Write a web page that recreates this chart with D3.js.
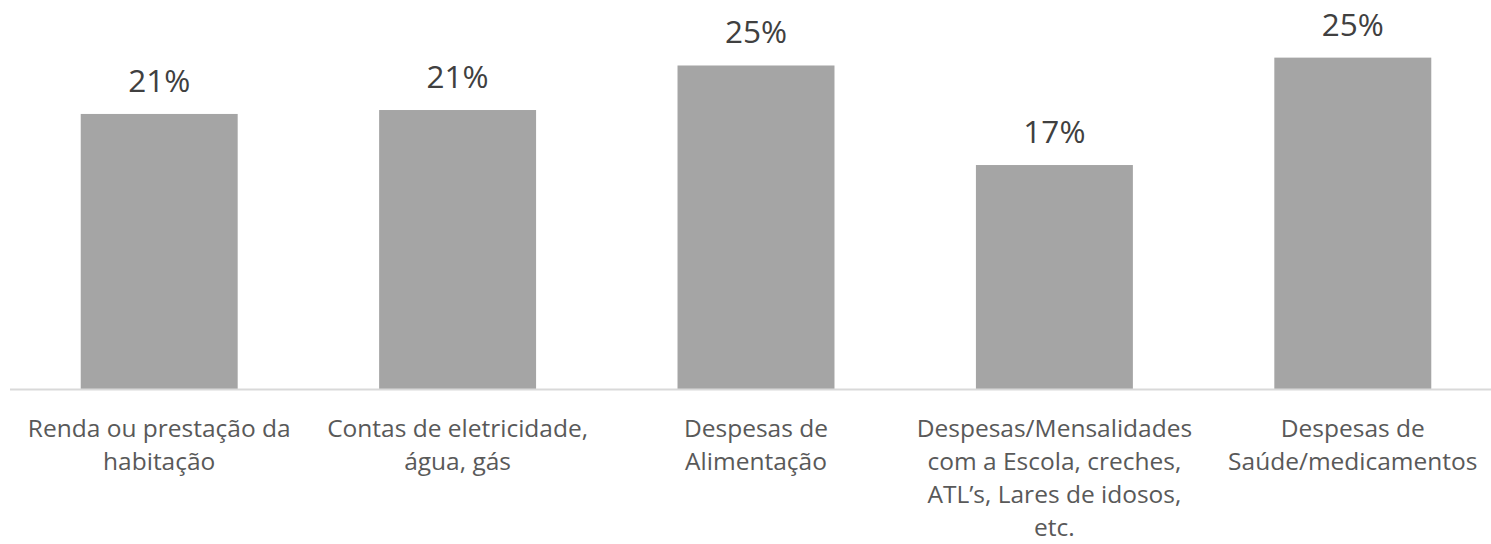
<!DOCTYPE html>
<html>
<head>
<meta charset="utf-8">
<script src="https://cdn.jsdelivr.net/npm/d3@7"></script>
<style>
  body { margin: 0; background: #fff; }
  svg { display: block; }
</style>
</head>
<body>
<div id="chart"></div>
<script>
const width = 1491, height = 544;

// categories (already broken into lines as in the original)
const categories = [
  ["Renda ou prestação da", "habitação"],
  ["Contas de eletricidade,", "água, gás"],
  ["Despesas de", "Alimentação"],
  ["Despesas/Mensalidades", "com a Escola, creches,", "ATL’s, Lares de idosos,", "etc."],
  ["Despesas de", "Saúde/medicamentos"]
];
const values = [21.0, 21.3, 24.7, 17.1, 25.3];

const data = categories.map((c, i) => ({key: i, lines: c, value: values[i]}));

const svg = d3.select("#chart").append("svg")
  .attr("width", width)
  .attr("height", height);

const baseline = 389;

const x = d3.scaleBand().domain(data.map(d => d.key)).range([10, 1502])
  .paddingInner(0.474).paddingOuter(0.237);
const y = d3.scaleLinear().domain([0, 29.7]).range([baseline, 0]);

svg.selectAll("rect.bar")
  .data(data)
  .join("rect")
  .attr("class", "bar")
  .attr("x", d => x(d.key))
  .attr("y", d => y(d.value))
  .attr("width", x.bandwidth())
  .attr("height", d => y(0) - y(d.value))
  .attr("fill", "#a5a5a5");

// baseline axis
svg.append("line")
  .attr("x1", x.range()[0]).attr("x2", x.range()[1])
  .attr("y1", baseline + 0.5).attr("y2", baseline + 0.5)
  .attr("stroke", "#d9d9d9").attr("stroke-width", 2);

// value labels
svg.selectAll("text.val")
  .data(data)
  .join("text")
  .attr("class", "val")
  .attr("x", d => x(d.key) + x.bandwidth() / 2)
  .attr("y", d => y(d.value) - 22)
  .attr("text-anchor", "middle")
  .attr("font-family", "'Open Sans', sans-serif")
  .attr("font-size", 31.5)
  .attr("fill", "#404040")
  .text(d => d3.format(".0f")(d.value) + "%");

// category labels
const cat = svg.selectAll("text.cat")
  .data(data)
  .join("text")
  .attr("class", "cat")
  .attr("text-anchor", "middle")
  .attr("font-family", "'Open Sans', sans-serif")
  .attr("font-size", 24.5)
  .attr("fill", "#595959");

cat.selectAll("tspan")
  .data(d => d.lines.map(l => ({l, cx: x(d.key) + x.bandwidth() / 2})))
  .join("tspan")
  .attr("x", d => d.cx)
  .attr("y", (d, i) => 437 + i * 33)
  .text(d => d.l);
</script>
</body>
</html>
